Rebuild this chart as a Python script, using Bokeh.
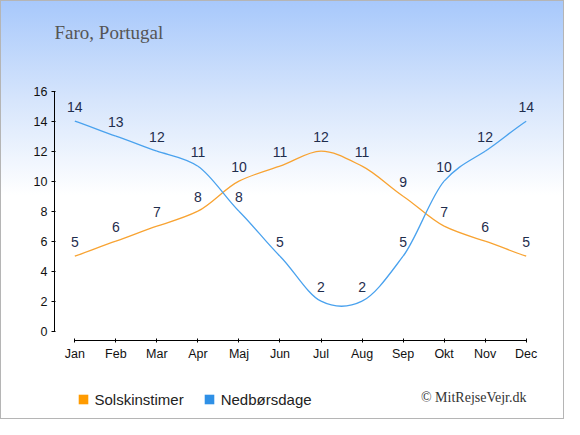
from bokeh.plotting import figure
from bokeh.layouts import column
from bokeh.models import (Range1d, FixedTicker, Legend, LegendItem, Label,
                          ColumnDataSource)
from bokeh.core.properties import value
from bokeh.embed import file_html
from bokeh.resources import INLINE

months = ["Jan", "Feb", "Mar", "Apr", "Maj", "Jun", "Jul", "Aug", "Sep", "Okt", "Nov", "Dec"]
sun_hours = [5, 6, 7, 8, 10, 11, 12, 11, 9, 7, 6, 5]
rain_days = [14, 13, 12, 11, 8, 5, 2, 2, 5, 10, 12, 14]
y_ticks = [0, 2, 4, 6, 8, 10, 12, 14, 16]
series_names = ["Solskinstimer", "Nedbørsdage"]
title_text = "Faro, Portugal"
credit_text = "© MitRejseVejr.dk"

SUN_LINE = "#f8a332"
RAIN_LINE = "#4aa2ee"
SUN_BOX = "#ff9b00"
RAIN_BOX = "#2f90e6"
LABEL_COLOR = "#1f2d4d"
SANS = "Liberation Sans"
SERIF = "Liberation Serif"

W = 564
H_MAIN = 370
H_FOOT = 49
NAN = float("nan")

xs = list(range(len(months)))


def smooth_segments(vals, k=0.15):
    n = len(vals)
    d = dict(x0=[], y0=[], x1=[], y1=[], cx0=[], cy0=[], cx1=[], cy1=[])
    for i in range(n - 1):
        prev_v = vals[i - 1] if i > 0 else 2 * vals[0] - vals[1]
        next_v = vals[i + 2] if i + 2 < n else 2 * vals[n - 1] - vals[n - 2]
        d["x0"].append(xs[i]); d["y0"].append(vals[i])
        d["x1"].append(xs[i + 1]); d["y1"].append(vals[i + 1])
        d["cx0"].append(xs[i] + 1 / 3); d["cy0"].append(vals[i] + k * (vals[i + 1] - prev_v))
        d["cx1"].append(xs[i + 1] - 1 / 3); d["cy1"].append(vals[i + 1] - k * (next_v - vals[i]))
    return ColumnDataSource(d)


def transparent(fig):
    fig.border_fill_color = None
    fig.background_fill_color = None
    fig.outline_line_color = None
    fig.grid.visible = False


# main chart: frame reaches up to the top so the heading can live inside it
p = figure(width=W, height=H_MAIN, output_backend="svg", toolbar_location=None,
           x_range=Range1d(-0.495, 11.3), y_range=Range1d(-0.62, 21.513),
           min_border_left=54, min_border_right=26, min_border_top=8,
           min_border_bottom=30)
transparent(p)

# axes
p.xaxis.ticker = FixedTicker(ticks=xs)
p.xaxis.major_label_overrides = {i: m for i, m in enumerate(months)}
p.xaxis.bounds = (0, 11)
p.yaxis.ticker = FixedTicker(ticks=y_ticks)
p.yaxis.bounds = (0, 16)
for ax in (p.xaxis[0], p.yaxis[0]):
    ax.axis_line_color = "#000000"
    ax.major_tick_line_color = "#000000"
    ax.minor_tick_line_color = None
    ax.major_label_text_font = SANS
    ax.major_label_text_font_size = "12.5px"
    ax.major_label_text_color = "#111111"
p.xaxis.major_tick_in = 2
p.xaxis.major_tick_out = 2
p.xaxis.major_label_standoff = 4
p.yaxis.major_tick_in = 1
p.yaxis.major_tick_out = 3
p.yaxis.major_label_standoff = 4

# heading
heading = Label(x=0, y=308, x_units="screen", y_units="screen", text=title_text,
                text_align="left", text_baseline="middle", text_font=SERIF,
                text_font_size="19px", text_color="#555555")
p.add_layout(heading)

# curves
p.bezier(x0="x0", y0="y0", x1="x1", y1="y1", cx0="cx0", cy0="cy0", cx1="cx1", cy1="cy1",
         source=smooth_segments(sun_hours), line_color=SUN_LINE, line_width=1.3)
p.bezier(x0="x0", y0="y0", x1="x1", y1="y1", cx0="cx0", cy0="cy0", cx1="cx1", cy1="cy1",
         source=smooth_segments(rain_days), line_color=RAIN_LINE, line_width=1.3)

# value labels
for vals in (sun_hours, rain_days):
    p.text(x=xs, y=vals, text=[str(v) for v in vals], y_offset=-14,
           text_align="center", text_baseline="middle",
           text_font=value(SANS), text_font_size="14px", text_color=LABEL_COLOR)

# footer: legend + credit
f = figure(width=W, height=H_FOOT, output_backend="svg", toolbar_location=None,
           x_range=Range1d(0, 1), y_range=Range1d(0, 1),
           x_axis_location=None, y_axis_location=None,
           min_border_left=54, min_border_right=26, min_border_top=0, min_border_bottom=0)
transparent(f)

r_sun = f.quad(left=[NAN], right=[NAN], top=[NAN], bottom=[NAN], fill_color=SUN_BOX, line_color=None)
r_rain = f.quad(left=[NAN], right=[NAN], top=[NAN], bottom=[NAN], fill_color=RAIN_BOX, line_color=None)
legend = Legend(items=[LegendItem(label=series_names[0], renderers=[r_sun]),
                       LegendItem(label=series_names[1], renderers=[r_rain])],
                orientation="horizontal", location=(22.5, 11.5),
                glyph_width=12, glyph_height=12, label_standoff=6, spacing=19,
                padding=0, margin=0, border_line_color=None,
                background_fill_alpha=0, label_text_font=SANS,
                label_text_font_size="15px", label_text_color="#222222",
                label_height=16)
f.add_layout(legend)

credit = Label(x=472, y=22, x_units="screen", y_units="screen", text=credit_text,
               text_align="right", text_baseline="middle", text_font=SERIF,
               text_font_size="14px", text_color="#333333")
f.add_layout(credit)

page = column(p, f, spacing=0)
page.styles = {"background": "linear-gradient(to bottom, #a7c8fb 0px, #d6e5fc 100px, #ffffff 195px, #ffffff 100%)",
               "box-shadow": "inset 0 0 0 1px #b5b5b5"}

open("out.html", "w").write(file_html(page, INLINE))
